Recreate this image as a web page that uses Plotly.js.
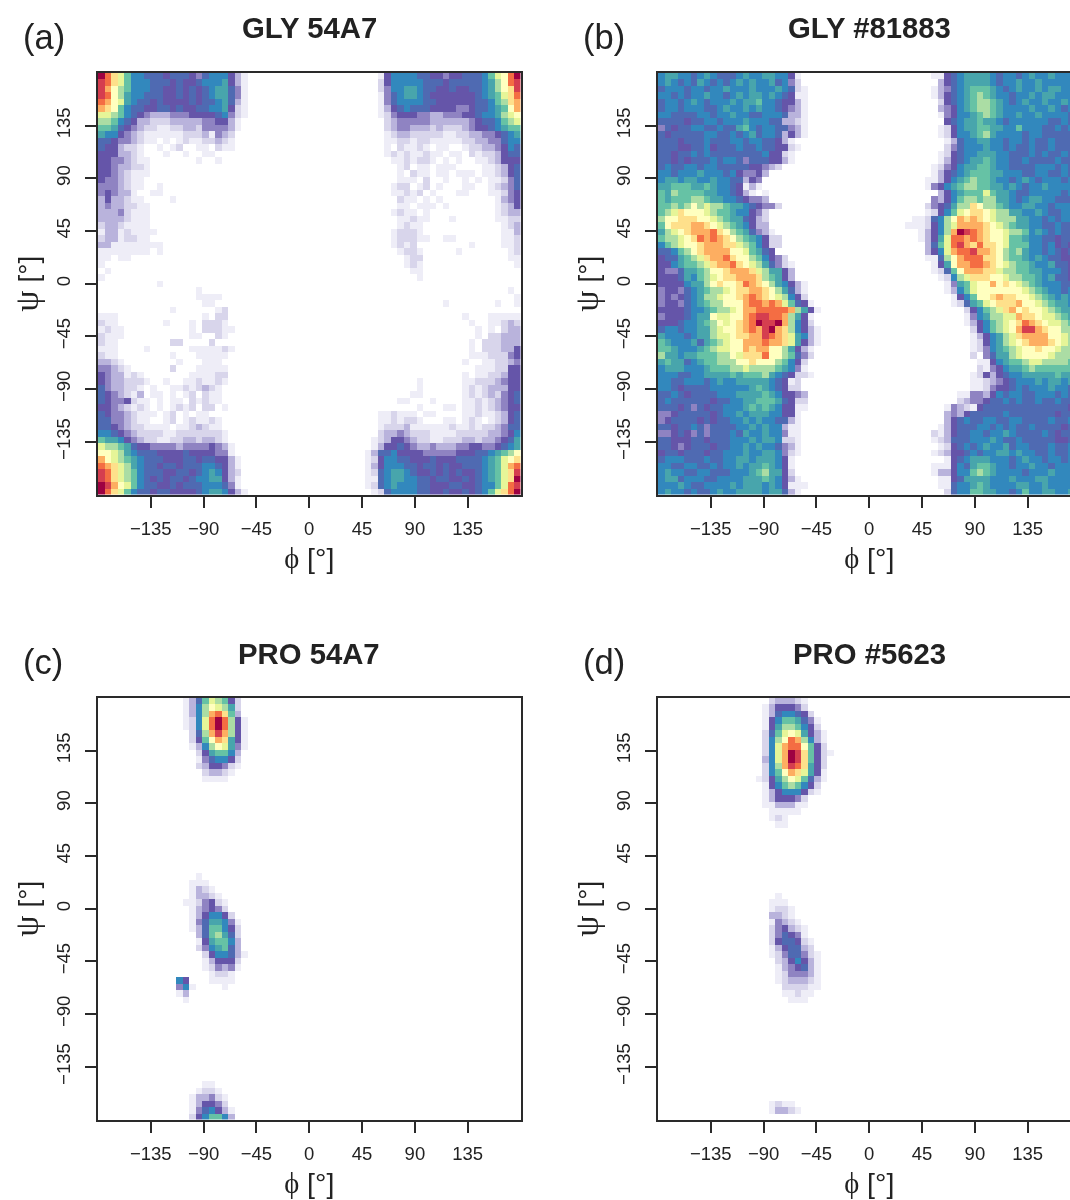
<!DOCTYPE html>
<html><head><meta charset="utf-8">
<script src="https://cdn.plot.ly/plotly-3.0.1.min.js"></script>
<style>html,body{margin:0;padding:0;background:#fff;overflow:hidden;width:1070px;height:1200px}#c{width:1100px;height:1200px;filter:blur(0.6px)}</style>
</head><body><div id="c"></div>
<script>
// Cell codes: '.'/0 empty, then base-36 level. Left part starts at the first bin; after '|' the right part ends at the last bin, or starts at bin n when written "n:vals".
const gly54A7 = [
"hfdb9 77666 56665 46777 531 | 1 5777 76655 45566 6 79bcfh",
"gfdb9 77766 65655 67778 531 | 2 5777 77666 56666 6 78acfg",
"geca9 77766 55656 56788 641 | 2 4778 87665 56556 6 78acdg",
"gfca8 77666 55656 56788 641 | 1 4678 87655 55555 6 789bdf",
"fecb8 76656 55556 56678 631 | 1 4677 77665 55555 6 679ade",
"edc97 66556 65655 66778 521 | 1 3567 66655 55445 6 6789ce",
"bba97 65433 34445 55567 421 | 1 2455 54433 44455 6 778abc",
"aa976 53322 23333 34455 31 | 0 2344 44433 33334 5 667 9ab",
"99865 43221 12233 24444 31 | 0 2344 33323 22234 5 567899",
"87754 32111 11122 23143 2 | 0 1233 22222 11223 3 445678",
"66544 32110 10121 12232 1 | 0 1122 12211 11122 3 344677",
"65532 21001 01200 11021 1 | 0 1021 12101 10012 2 334576",
"55533 21000 10010 01100 | 0 1212 11211 01102 1 223566",
"55443 21100 00000 10010 | 0 0112 12210 10100 1 123555",
"55433 22100 00000 | 0 0012 01101 11000 0 112356",
"55432 11100 | 0 0010 21101 10111 0 112356",
"54432 11000 | 0 0011 10200 10010 1 011246",
"44432 11001 | 0 0122 01201 00011 0 012346",
"45433 10011 | 0 0112 12010 00110 0 011245",
"35332 11000 01 | 0 0021 10101 00000 0 001345",
"34332 21100 | 0 0011 01110 10000 0 001235",
"33342 11100 | 0 0121 10100 00000 0 001233",
"33332 11100 | 0 0011 21100 01000 0 001122",
"23321 11100 | 0 0012 11000 00000 0 000123",
"13312 11110 | 0 0122 21000 00000 0 000113",
"23312 21100 | 0 0122 21100 11000 0 000112",
"33111 11111 | 0 0121 20000 00001 0 000112",
"11111 11101 | 0 0012 21000 00100 0 000012",
"11011 | 0 0001 22000 00000 0 000011",
"1 | 0 0001 21000 00000 0 000001",
"01 | 0 0000 11000 00000 0 000000",
"1 | 0 0000 01000 00000 0 000000",
"00000 00001",
"00000 00000 00000 1 | 00000 00000 00000 00000 10",
"00000 00000 00000 1111 | 00000 00000 00000 00000 01",
"00000 00000 00000 011 | 00000 00000 10000 00010 01",
"00000 00000 01000 00012",
"11100 00000 00000 01022 | 00000 00000 00010 00111 11",
"21100 00000 10001 0222 1 | 00000 00000 00001 00112 32",
"12110 00000 00001 0222 11 | 00000 00000 00000 10102 33",
"21110 00000 00001 1002 1 | 00000 00000 00000 10223 33",
"21100 00000 02200 00200 | 00000 00000 00001 02223 33",
"11100 00100 00001 11112 1 | 00000 00000 00001 02223 35",
"21100 00000 01000 11111 | 00000 00000 00001 11222 45",
"33210 00000 00100 01110 | 00000 00000 00010 01122 34",
"44321 00000 02000 11111 | 00000 00000 00000 11122 55",
"54331 21000 00001 11122 | 00000 00000 00010 11223 55",
"54332 22100 10011 21121 | 00000 01000 00011 22234 55",
"64332 21010 01121 23210 | 00000 01000 00012 12333 55",
"65432 13011 01012 02110 | 00000 11000 00012 12324 56",
"65445 21101 01102 12110 | 00011 00010 00011 21234 56",
"55432 12101 01212 02201 | 00000 01000 11011 21234 55",
"65443 21110 12010 11 | 11211 10110 00011 21123 56",
"66443 21100 12012 11210 | 11212 21000 11012 10123 56",
"66543 22111 10112 32110 | 1 2223 11111 12112 12234 66",
"77654 32222 11222 22221 | 2 3343 22211 11222 22334 57",
"98875 43221 12233 23321 | 1 2 3554 32211 22233 23345 68",
"baa98 65544 44344 44543 1 | 1 3 5565 43343 33445 54456 78",
"ccba8 76665 55565 55544 1 | 1 3 6675 55544 44455 56678 9ac",
"ecba9 87666 55566 56655 31 | 1 2 5776 65556 55566 66789 bcd",
"fedba 87665 66566 67765 31 | 1 3 5777 66566 56556 66789 bef",
"gfdba 97666 55665 67875 32 | 1 2 6788 76556 56565 56789 bdg",
"gfdba 97656 56656 77885 31 | 1 1 6788 77665 66556 56789 bdh",
"hgecb 97665 56566 67776 41 | 1 2 6787 77665 55665 56779 bfg",
"hfdb9 76656 65555 67887 531 | 1 2 6777 76655 65565 67 9bdfh"
];
const gly81883 = [
"78877 67876 66787 78877 51 | 42:1 1 5 6 7 8 8 8 8 7 6 7 7 6 7 8 7 7 8 7 7 7 7",
"78767 68767 67878 77867 42 | 43:3 5 6 7 8 8 8 8 7 6 7 7 8 7 7 8 7 7 7 7 7 7",
"67776 77677 87778 77787 621 | 42:1 3 4 6 7 8 9 9 9 8 7 6 7 8 7 7 8 7 8 8 7 7 7",
"77676 77877 67878 87876 511 | 42:1 3 5 6 7 8 9 a 9 8 7 7 6 7 7 8 7 8 8 7 7 7 8",
"67767 87677 78788 97765 531 | 43:2 5 6 7 8 9 a a 9 8 7 6 7 8 7 7 8 7 7 8 7 7",
"67767 77667 87787 87765 431 | 43:3 4 5 7 8 9 a a 9 8 7 7 7 7 8 7 7 8 7 6 7 7",
"77666 67767 78776 67776 331 | 43:1 4 5 7 7 8 9 a 9 8 7 7 8 7 7 8 7 7 7 7 6 7",
"66665 66776 77787 77663 321 | 44:5 6 7 8 8 9 8 8 7 6 7 7 7 7 7 7 6 6 7 6 6",
"46566 77667 66897 67766 431 | 43:1 2 5 7 8 8 9 9 8 8 7 7 9 7 7 7 6 6 7 6 7 7",
"65666 66776 67678 67763 531 | 43:1 2 5 7 7 8 9 a 8 7 7 7 7 6 7 7 6 6 6 6 6 7",
"66656 66766 67767 76 65 31 | 44:1 3 6 7 7 8 8 7 7 6 7 7 6 7 6 6 7 6 6 6 7",
"66655 66756 66766 76655 21 | 44:2 4 6 7 7 7 8 7 7 6 7 6 6 7 6 6 7 6 6 6 7",
"66566 76766 66666 67 55 21 | 43:1 2 5 6 7 7 8 8 8 7 7 6 6 6 7 6 7 6 6 7 6 6",
"66565 66676 77646 6655 3 1 | 43:1 3 5 6 7 8 8 9 8 7 7 6 6 7 6 6 6 6 7 6 6 7",
"67667 76776 66665 54 32 | 42:1 2 4 5 7 8 8 9 9 8 7 7 6 6 6 6 7 7 7 6 7 6 6",
"77677 78777 67 5 44 53 | 42:1 3 5 6 7 8 9 9 9 8 8 7 7 7 6 6 7 7 6 6 7 6 7",
"78878 87787 76 6 3 54 | 41:1 1 3 5 7 8 9 a 9 9 8 7 7 6 7 8 7 6 7 7 7 6 7 6",
"88999 88 987 7 6 5 1 3 1 | 41:1 4 5 7 8 9 a a 9 9 8 8 7 8 7 6 7 7 8 7 7 7 7 6",
"98a99 99887 76 5 3 1 0 1 | 43:3 5 7 8 9 9 9 b 9 8 8 7 6 6 7 7 7 7 7 6 7 7",
"98999 aa988 77 6 5 4 4 3 | 42:4 3 5 7 9 a a 9 a a 8 8 7 6 7 8 8 7 7 6 6 6 7",
"99a9a cabaa 98 8 7 6 5 4 4 2 | 41:2 4 5 6 8 a a d c a a 9 8 7 7 8 8 7 7 6 7 7 7 6",
"9abdc ccba9 98 77 5 4 2 | 41:1 2 5 7 9 b c d d c b a a 8 8 7 7 8 7 6 6 7 7 7",
"accdd dccba 98 86 5 3 2 | 39:1 1 2 6 7 a c e d e d c b a a a 8 8 7 7 6 7 6 7 7 6",
"9cddd eedcb a9 87 5 3 3 | 38:1 1 1 2 5 7 a b e e e e d c b a 9 8 8 7 7 6 6 7 6 6 6",
"8abcd eeefd ca 98 6 4 3 1 | 40:1 3 5 7 a e h g f e d c c b a a 9 7 8 7 6 7 6 6 6",
"9aabc dfefe dc a9 87 5 2 2 | 40:1 3 5 8 b f f e f e d c c b 9 9 8 7 7 6 6 5 6 6 5",
"79abc cdeee dd ba 97 5 2 2 | 41:3 6 9 b f g e d f d d c b 9 9 9 7 7 6 7 5 6 5 5",
"667 9a cdeee ec cb 98 6 5 | 41:3 5 7 b e f f g e e d c a 9 a 8 7 7 6 7 6 5 6 5",
"56689 abdee fd cc a9 7 5 4 2 | 41:1 1 6 a c e f f f d d c a 9 9 8 7 8 7 6 6 5 5 6",
"55789 9abde ef dc ba 8 6 4 2 1 | 42:1 5 8 c e e f f e d c b a 9 9 8 7 7 8 6 6 5 5",
"54468 89acc deeed ba 88 5 3 | 42:1 2 6 9 c e e e d d b a a 9 9 8 8 7 7 7 6 5",
"55568 79abc ddeee da 98 5 3 | 43:1 2 7 a b d d d c c b a a 9 9 8 7 8 6 6 5 4",
"55557 88acd ccdfe dc a8 7 5 3 1 | 44:1 4 8 9 b c c e c d c b a 9 8 7 7 7 6 6 5",
"45546 789aa bcdde edca 86 3 1 | 44:1 3 7 9 b c c c c c c c b a 9 8 7 7 6 7 6",
"45456 78aab ccdef edcba 75 2 | 45:1 5 7 9 c c d e d d c c b a 9 8 7 8 7 6",
"45546 789aa ccc ef fefeb 96 5 1 | 45:1 2 6 8 9 b c d d d e c c b a 9 8 8 7 7",
"55556 77 89a abcee fffffe a8 5 1 | 47:2 5 7 9 a b d e c d c c b a 9 8 8 7",
"45556 78 8cb bccef ggffe a8 5 1 | 47:1 4 7 8 a a b b e d d c b b a 9 8 8",
"55567 78 9ac bcdef hggh e a7 5 2 | 47:1 3 5 7 9 a b c d f e d c b b a 9 9",
"67767 78 8ab ccdef eghed a7 5 3 1 | 48:2 5 7 9 a b c e g g e d c c a a 9",
"87776 78 8ab bcdde egfed b8 7 3 1 | 48:1 3 5 7 8 a b d e e e e c c b a a",
"98777 86 89a bcc eeefe ed b8 5 3 1 | 48:1 2 5 7 8 a b c d e e e d c b a a",
"99877 789ab bcc ed eecc a8 5 3 1 | 48:1 2 4 7 8 9 a b c c d c c b a a 9",
"a8878 8999a acbdd dfcca 96 4 2 | 48:2 . 4 6 8 8 a b c c c c b a a a 9",
"89886 7899a aacc dccca 97 5 2 | 49:1 1 5 7 8 9 9 a b b a a a a 9 8",
"78887 7789 99aab aaaa9 87 4 1 | 49:2 1 4 5 7 8 8 9 a 9 9 9 9 9 9 8",
"77766 77888 89899 9a87 65 2 2 1 | 48:1 2 5 3 5 6 7 7 8 8 8 8 8 9 8 8 7",
"77667 77678 77888 88 7 6 5 1 2 | 48:1 1 2 3 4 5 6 7 7 7 8 7 8 8 7 8 7",
"77656 66677 77778 98 7 6 5 2 2 | 48:1 1 2 4 5 5 6 7 6 7 7 7 8 7 7 6 7",
"66765 66667 77888 89 87 5 5 4 3 | 46:1 1 4 4 3 5 7 6 7 7 6 6 7 7 7 6 7 6 6",
"67666 66656 67788 99 98 6 5 2 2 | 46:2 3 4 4 5 6 6 7 6 7 6 6 7 6 6 7 6 6 7",
"66656 46566 77789 89 87 5 5 1 1 | 44:1 4 3 2 1 5 6 6 6 6 6 6 6 6 6 6 6 6 6 5 6",
"44566 66656 77878 88 77 5 5 1 | 44:3 4 3 5 6 6 6 6 6 7 6 6 6 6 6 6 6 5 6 6 6",
"45666 65656 67787 87 76 6 3 1 | 44:3 5 6 7 6 6 7 7 6 6 7 7 6 6 6 6 7 6 6 7 6",
"66566 76466 66778 78 77 3 1 1 | 43:1 3 5 6 6 6 7 7 6 7 6 7 6 6 7 6 6 6 6 5 6 7",
"44565 46466 67687 78 77 4 1 1 | 42:2 1 3 5 6 6 7 7 6 7 7 8 7 6 6 6 6 7 6 5 6 6 6",
"66555 66566 67778 78 87 2 2 1 | 42:1 2 3 6 6 6 7 7 7 8 7 6 6 7 6 6 6 6 6 5 5 6 6",
"66545 66656 67787 87 76 4 3 1 | 43:1 2 5 6 7 6 7 8 7 7 8 6 7 7 6 6 6 7 6 6 7 7",
"56656 66566 77787 78 87 4 2 1 | 42:1 2 3 5 5 6 7 6 7 7 8 8 7 8 7 7 6 6 7 6 6 7 7",
"67776 66766 77887 88 87 5 1 | 44:1 5 6 7 8 8 8 7 7 7 6 7 8 7 7 6 7 7 6 7 7",
"77667 76676 77878 89 87 5 1 | 42:1 1 1 5 7 6 8 9 9 8 7 7 6 7 7 8 7 7 6 7 7 7 7",
"78776 67766 67778 9a 88 5 2 | 42:1 3 3 5 7 7 9 a 9 8 7 7 7 7 6 7 7 7 8 7 7 7 7",
"78867 77667 77788 89 87 5 3 1 | 43:1 1 5 6 8 8 8 8 7 7 7 8 7 7 7 8 8 7 7 7 7 7",
"77787 66777 78788 87 87 5 1 1 1 | 43:1 1 6 7 7 8 9 8 7 7 7 7 8 8 7 7 8 7 7 7 7 7",
"78776 76678 77888 87 88 6 3 1 | 44:2 6 7 7 9 9 8 8 7 7 6 7 9 7 7 8 8 7 7 8 7"
];
const pro54A7 = [
"13:1369 ba95 2","13:137a cba82","13:137a efd93","13:127b fhfa5 1","13:127b fhfa5 1",
"14:26ae gea5 1","14:259c ed85 1","14:137a cb84 1","15:2589 9 73","15:1467 7 52",
"15:2355 4 21","16:2332 1","16:1111","","","","","","","","","","","","","","",
"15:1","14:111","14:1321","14:13321","13:11245 21","14:13 4 5 4 2","14:13 5 7 7 5 2","14:14 6 8 8 7 4 1",
"14:13 6 9 9 7 5 2","15:3 6 9 a 8 6 2","15:1 5 8 9 9 7 3","15:2 4 7 8 9 6 3","16:2 5 7 7 6 3 1","16:1 3 5 5 5 2",
"16:1 2 4 3 4 1","17:1 2 2 1","12:7 5 . . . 1 1 1 1","12:4 7 1 . . . . 1","12:1 3","13:1","","","","","","","","","","","","",
"16:11","15:1221","14:13342 1","14:13 5 5 4 2","14:14 6 7 5 3 1","14:25 7 9 9 7 3"
];
const pro5623 = [
"17:2 3 3 3 2 1","16:1 3 5 5 5 4 2","16:1 3 6 7 7 6 5 2","16:1 5 7 9 9 8 6 4 1","16:1 5 8 a a 9 7 5 2",
"16:2 6 9 b c b 8 5 3 1","16:2 7 a c f e a 7 3 1","16:2 7 b e f f c 9 5 2","16:2 7 b e h g d 9 5 2 1","16:3 7 b e h g d 9 5 2",
"16:2 7 a e g f d 8 5 2","16:2 7 9 c e d b 8 5 1","15:1 2 5 8 a c b 9 6 3 1","16:1 5 7 9 a 9 7 5 2","16:1 3 5 7 7 7 5 2 1",
"16:1 3 5 5 5 4 2","16:1 1 3 3 3 1 1","17:1 1 1 1 1","17:1 2 1","18:1 1","","","","","","","","","","",
"18:1","17:1 1 1","17:1 2 2 1","17:3 3 2 1","17:1 4 3 2 1","17:2 4 5 3 2 1","17:2 4 6 5 4 1","17:2 5 6 6 5 2 1",
"17:1 3 5 6 6 3 2","17:1 2 4 6 6 4 2 1","18:2 3 5 7 5 3 1","18:1 3 4 5 6 3 1","18:1 2 4 4 4 3 1","18:1 2 3 3 3 2 1",
"19:2 2 2 2 1 1","19:1 1 2 1 1","20:1 1 1","","","","","","","","","","","","","","","",
"17:1 2 1 1","17:1 3 3 2 1"
];
const levelColors = ["#ffffff","#eeedf7","#d8d5eb","#b9b3dc","#8f83c2","#6555a9","#4f6ab2","#3288bd","#48a5ac","#66c2a5","#abdda4","#e6f598","#ffffbf","#fee08b","#fdae61","#f46d43","#d53e4f","#9e0142"];
const tickVals = [-135,-90,-45,0,45,90,135];
const binCount = 65;
const panelTitles = ["GLY 54A7","GLY #81883","PRO 54A7","PRO #5623"];
const panelTags = ["(a)","(b)","(c)","(d)"];

function parse(rows){
  const out=[];
  for(let r=0;r<binCount;r++){
    const row=new Array(binCount).fill(0);
    const s=(rows[r]||"").replace(/ /g,"");
    const put=(c,ch)=>{ if(c>=0&&c<binCount&&ch!=="."){ row[c]=parseInt(ch,36);} };
    const startAt=t=>{const [n,v]=t.split(":");[...v].forEach((ch,i)=>put(+n+i,ch));};
    if(!s.includes("|")&&s.includes(":")){startAt(s);}
    else{const [l,rt]=s.split("|");[...l].forEach((ch,i)=>put(i,ch));
      if(rt){ if(rt.includes(":")) startAt(rt); else {const a=[...rt];a.forEach((ch,i)=>put(binCount-a.length+i,ch));}}}
    out.push(row);
  }
  return out;
}
const W=1100,H=1200;
const step=360/binCount;
const phi=Array.from({length:binCount},(_,i)=>-180+(i+.5)*step);
const psi=Array.from({length:binCount},(_,i)=>180-(i+.5)*step);
const grids=[gly54A7,gly81883,pro54A7,pro5623].map(parse);
const frames=[[98,520.5,73,494.5],[658,1080.5,73,494.5],[98,520.5,698,1119.5],[658,1080.5,698,1119.5]];
const scale=levelColors.map((c,i)=>[i/(levelColors.length-1),c]);
const layout={width:W,height:H,autosize:false,margin:{l:0,r:0,t:0,b:0},paper_bgcolor:"#fff",plot_bgcolor:"#fff",showlegend:false,annotations:[]};
const sans="Liberation Sans, Arial, sans-serif";
const phiT='<span style="font-family:\'Liberation Serif\'">ϕ</span> [°]';
const psiT='<span style="font-family:\'Liberation Serif\';font-size:34px">ψ</span> [°]';
const data=grids.map((z,i)=>{
  const n=i===0?"":String(i+1);const f=frames[i];
  const ax={tickmode:"array",tickvals:tickVals,ticks:"outside",ticklen:11,tickwidth:2,tickcolor:"#2a2a2a",showgrid:false,zeroline:false,showline:true,mirror:true,linewidth:2,linecolor:"#2a2a2a",range:[-180,180],autorange:false,
    tickfont:{family:sans,size:18.5,color:"#222"}};
  layout["xaxis"+n]=Object.assign({},ax,{domain:[f[0]/W,f[1]/W],anchor:"y"+n,ticklabelstandoff:5,title:{text:phiT,standoff:10,font:{family:sans,size:28.5,color:"#222"}}});
  layout["yaxis"+n]=Object.assign({},ax,{domain:[1-f[3]/H,1-f[2]/H],anchor:"x"+n,tickangle:-90,ticklabelstandoff:8,title:{text:psiT,standoff:6,font:{family:sans,size:28,color:"#222"}}});
  layout.annotations.push({xref:"paper",yref:"paper",x:(f[0]+f[1])/2/W,y:1-(f[2]-45)/H,text:"<b>"+panelTitles[i]+"</b>",showarrow:false,xanchor:"center",yanchor:"middle",font:{family:sans,size:29.3,color:"#222"}});
  layout.annotations.push({xref:"paper",yref:"paper",x:(f[0]-77)/W,y:1-(f[2]-36)/H,text:panelTags[i],showarrow:false,xanchor:"left",yanchor:"middle",font:{family:sans,size:34.5,color:"#222"}});
  return {type:"heatmap",x:phi,y:psi,z:z,xaxis:"x"+n,yaxis:"y"+n,zmin:0,zmax:levelColors.length-1,colorscale:scale,showscale:false,zsmooth:false,hoverinfo:"skip"};
});
Plotly.newPlot("c",data,layout,{staticPlot:true,displayModeBar:false});
</script></body></html>
